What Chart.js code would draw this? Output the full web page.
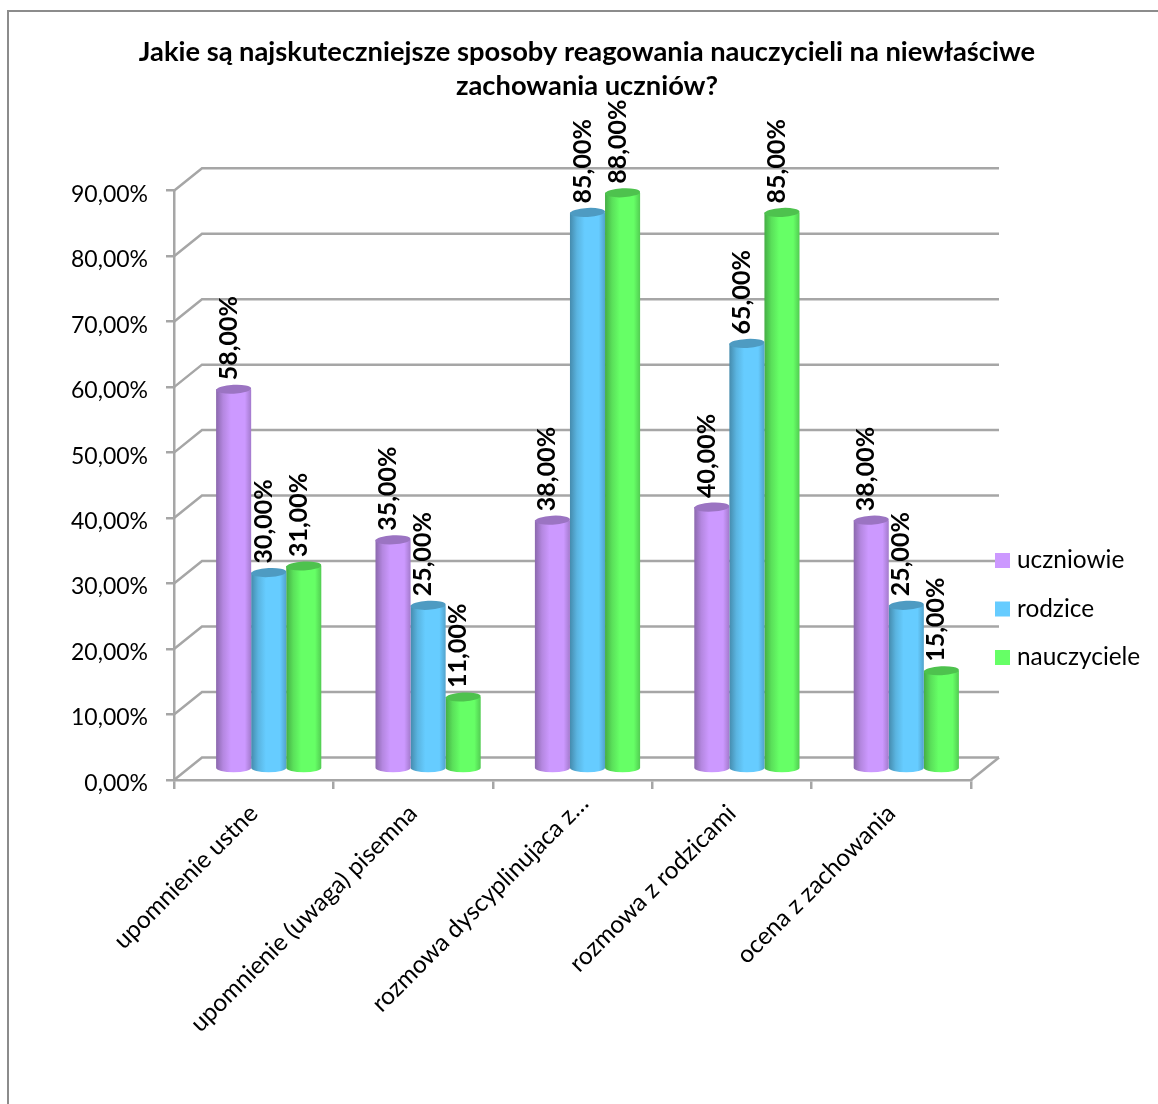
<!DOCTYPE html>
<html lang="pl">
<head>
  <meta charset="UTF-8">
  <title>Reagowanie nauczycieli</title>
  <script src="https://cdn.jsdelivr.net/npm/chart.js"></script>
  <style>
    html, body { margin: 0; padding: 0; background: #fff; overflow: hidden; }
    #wrap { position: relative; width: 1158px; height: 1104px; }
    #frame { position: absolute; left: 7px; top: 10px; width: 1151px; height: 1094px; box-sizing: border-box; border: 2px solid #8c8c8c; border-bottom: 0; border-right: 0; }
    canvas { position: absolute; left: 0; top: 0; }
  </style>
</head>
<body>
  <div id="wrap">
    <div id="frame"></div>
    <canvas id="chart" width="1158" height="1104"></canvas>
  </div>
  <script>
    const titleLines = ['Jakie są najskuteczniejsze sposoby reagowania nauczycieli na niewłaściwe', 'zachowania uczniów?'];
    const categories = ['upomnienie ustne', 'upomnienie (uwaga) pisemna', 'rozmowa dyscyplinujaca z…', 'rozmowa z rodzicami', 'ocena z zachowania'];
    const uczniowie = [58, 35, 38, 40, 38];
    const rodzice = [30, 25, 85, 65, 25];
    const nauczyciele = [31, 11, 88, 85, 15];

    const FONT = 'Lato';
    const GRID = '#a6a6a6';
    const DX = 28, DY = 22.5;      // depth of the fake 3D box
    const BAR_DX = 15, BAR_DY = 11; // bars stand in the middle of the floor

    const fmt = v => v.toFixed(2).replace('.', ',') + '%';

    function shade(hex, k) {
      const n = parseInt(hex.slice(1), 16);
      const c = [n >> 16, (n >> 8) & 255, n & 255].map(v => Math.round(v * k));
      return `rgb(${c[0]},${c[1]},${c[2]})`;
    }

    const box3d = {
      id: 'box3d',
      afterLayout(chart) {
        // title is centred on the whole frame, not on the plot
        chart.titleBlock.left = 16;
        chart.titleBlock.right = 1158;
        // the truncated label ends further along than the others
        const t = chart.scales.x.getLabelItems(chart.chartArea)[2].options.translation;
        t[0] += 12;
        t[1] -= 10;
      },
      beforeDatasetsDraw(chart) {
        const { ctx, chartArea: a, scales: { y } } = chart;
        ctx.save();
        ctx.strokeStyle = GRID;
        ctx.lineWidth = 2.5;
        y.ticks.forEach(t => {
          const py = y.getPixelForValue(t.value);
          ctx.beginPath();
          ctx.moveTo(a.left, py);
          ctx.lineTo(a.left + DX, py - DY);
          ctx.lineTo(a.right + DX, py - DY);
          ctx.stroke();
        });
        ctx.beginPath();
        ctx.moveTo(a.right, a.bottom);
        ctx.lineTo(a.right + DX, a.bottom - DY);
        ctx.stroke();
        // y tick labels sit a little below their ticks
        ctx.fillStyle = '#000';
        ctx.font = `23px ${FONT}`;
        ctx.textAlign = 'right';
        ctx.textBaseline = 'middle';
        y.ticks.forEach(t => {
          ctx.fillText(t.label, a.left - 26, y.getPixelForValue(t.value) + 3.5);
        });
        ctx.restore();
      },
      beforeDatasetDraw(chart, args) {
        const { ctx } = chart;
        const ds = chart.data.datasets[args.index];
        args.meta.data.forEach(bar => {
          const w = bar.width, l = bar.x - w / 2 + BAR_DX, r = l + w;
          const top = bar.y - BAR_DY, base = bar.base - BAR_DY;
          const cx = l + w / 2, ry = 4.5;
          const g = ctx.createLinearGradient(l, 0, r, 0);
          g.addColorStop(0, shade(ds.backgroundColor, 0.68));
          g.addColorStop(0.2, shade(ds.backgroundColor, 0.88));
          g.addColorStop(0.42, ds.backgroundColor);
          g.addColorStop(0.82, ds.backgroundColor);
          g.addColorStop(1, shade(ds.backgroundColor, 0.8));
          ctx.save();
          ctx.fillStyle = g;
          ctx.beginPath();
          ctx.moveTo(l, top);
          ctx.lineTo(r, top);
          ctx.lineTo(r, base);
          ctx.ellipse(cx, base, w / 2, ry, 0, 0, Math.PI);
          ctx.closePath();
          ctx.fill();
          ctx.fillStyle = shade(ds.backgroundColor, 0.76);
          ctx.beginPath();
          ctx.ellipse(cx, top, w / 2, ry, -0.05, 0, Math.PI * 2);
          ctx.fill();
          ctx.restore();
        });
        return false;
      },
      afterDatasetsDraw(chart) {
        const { ctx } = chart;
        ctx.save();
        ctx.fillStyle = '#000';
        ctx.font = `bold 25px ${FONT}`;
        ctx.textAlign = 'left';
        ctx.textBaseline = 'middle';
        chart.data.datasets.forEach((ds, i) => {
          chart.getDatasetMeta(i).data.forEach((bar, j) => {
            ctx.save();
            ctx.translate(bar.x + BAR_DX - 5, bar.y - BAR_DY - 9);
            ctx.rotate(-Math.PI / 2);
            ctx.fillText(fmt(ds.data[j]), 0, 0);
            ctx.restore();
          });
        });
        // legend
        ctx.font = `24.4px ${FONT}`;
        chart.data.datasets.forEach((ds, i) => {
          const ly = 560.5 + i * 48.5;
          ctx.fillStyle = ds.backgroundColor;
          ctx.fillRect(995, ly - 7.5, 15, 15);
          ctx.fillStyle = '#000';
          ctx.fillText(ds.label, 1017, ly);
        });
        ctx.restore();
      }
    };

    new Chart(document.getElementById('chart').getContext('2d'), {
      type: 'bar',
      data: {
        labels: categories,
        datasets: [
          { label: 'uczniowie', data: uczniowie, backgroundColor: '#CC99FF' },
          { label: 'rodzice', data: rodzice, backgroundColor: '#66CCFF' },
          { label: 'nauczyciele', data: nauczyciele, backgroundColor: '#66FF66' }
        ]
      },
      options: {
        responsive: false,
        animation: false,
        categoryPercentage: 0.66,
        barPercentage: 1,
        layout: { padding: { left: 16, right: 187, top: 35, bottom: 0 } },
        plugins: {
          legend: { display: false },
          tooltip: { enabled: false },
          title: {
            display: true,
            text: titleLines,
            color: '#000',
            font: { family: FONT, size: 27.3, weight: 'bold', lineHeight: 1.24 },
            padding: { top: 0, bottom: 88 }
          }
        },
        scales: {
          x: {
            grid: { drawOnChartArea: false, color: GRID, lineWidth: 2.5, tickLength: 9 },
            border: { color: GRID, width: 2.5 },
            ticks: { color: '#000', font: { family: FONT, size: 24.4 }, minRotation: 45, maxRotation: 45, autoSkip: false, padding: 10 },
            afterFit: s => { s.height = 324; }
          },
          y: {
            min: 0,
            max: 90,
            grid: { drawOnChartArea: false, color: GRID, lineWidth: 2.5, tickLength: 8 },
            border: { color: GRID, width: 2.5 },
            ticks: { stepSize: 10, color: 'rgba(0,0,0,0)', font: { family: FONT, size: 23 }, padding: 18, callback: v => fmt(v) },
            afterFit: s => { s.width = 158; }
          }
        }
      },
      plugins: [box3d]
    });
  </script>
</body>
</html>
